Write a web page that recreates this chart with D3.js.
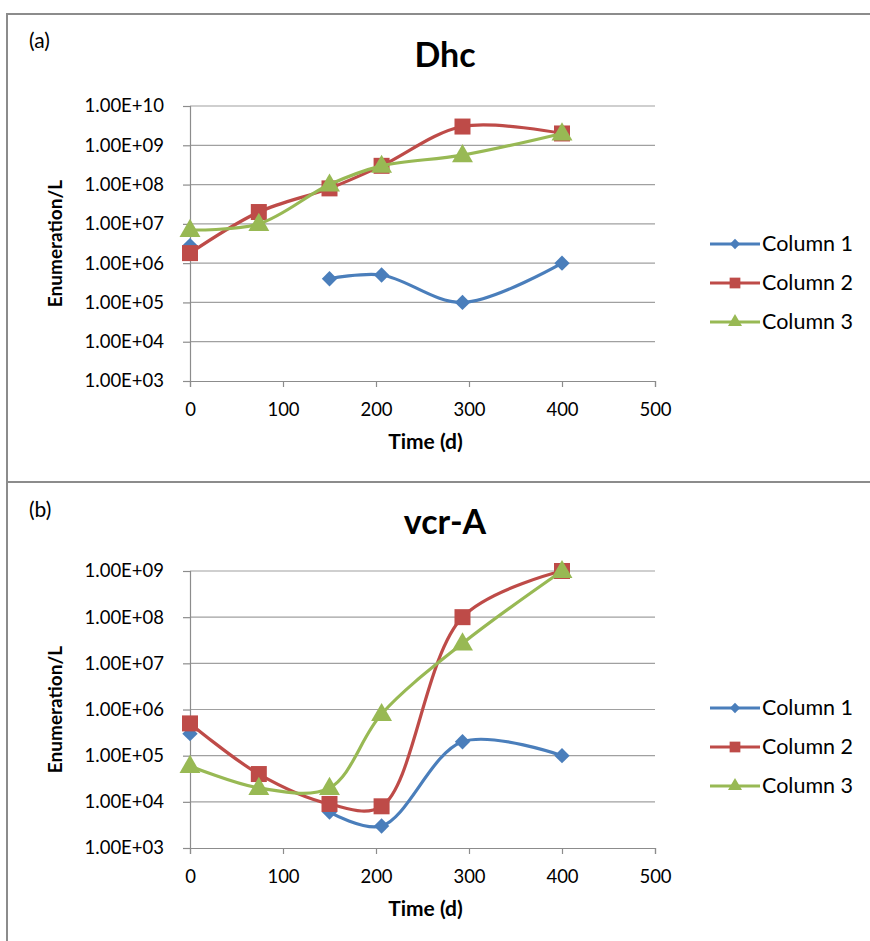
<!DOCTYPE html>
<html>
<head>
<meta charset="utf-8">
<script src="https://cdn.jsdelivr.net/npm/d3@7.9.0/dist/d3.min.js"></script>
<style>
  body { margin: 0; background: #fff; }
  text { font-family: Lato, "Open Sans", sans-serif; fill: #000; }
</style>
</head>
<body>
<svg id="chart" width="870" height="941"></svg>
<script>
// time points (days)
const days = [0, 74, 150, 206, 293, 400];
const seriesNames = ['Column 1', 'Column 2', 'Column 3'];
const colors = ['#4a7ebb', '#be4b48', '#98b954'];

// panel (a) Dhc
const dhcCol1 = [2.8e6, null, 4e5, 5e5, 1e5, 1e6];
const dhcCol2 = [1.8e6, 2e7, 8e7, 3e8, 3e9, 2e9];
const dhcCol3 = [7e6, 1e7, 1e8, 3e8, 5.6e8, 2e9];

// panel (b) vcr-A
const vcrCol1 = [3e5, null, 6e3, 3e3, 2e5, 1e5];
const vcrCol2 = [5e5, 4e4, 9e3, 8e3, 1e8, 1e9];
const vcrCol3 = [6e4, 2e4, 2e4, 8e5, 2.7e7, 1e9];

const xTicks = [0, 100, 200, 300, 400, 500];
const dhcTicks = [1e3, 1e4, 1e5, 1e6, 1e7, 1e8, 1e9, 1e10];
const vcrTicks = [1e3, 1e4, 1e5, 1e6, 1e7, 1e8, 1e9];

const svg = d3.select('#chart');

// outer frame and divider
svg.append('rect').attr('x', 7).attr('y', 14).attr('width', 900).attr('height', 960)
  .attr('fill', 'none').attr('stroke', '#8c8c8c').attr('stroke-width', 2);
svg.append('line').attr('x1', 7).attr('x2', 870).attr('y1', 482).attr('y2', 482)
  .attr('stroke', '#8c8c8c').attr('stroke-width', 2);

function fmt(v) {
  const e = Math.round(Math.log10(v));
  return '1.00E+' + String(e).padStart(2, '0');
}

function drawPanel(cfg) {
  const g = svg.append('g');
  const x = d3.scaleLinear().domain([0, 500]).range([190, 655]);
  const y = d3.scaleLog().domain(cfg.domain).range([cfg.bottom, cfg.top]);

  g.append('text').attr('x', 29).attr('y', cfg.labelY).attr('font-size', 21).text(cfg.label);
  g.append('text').attr('x', 445).attr('y', cfg.titleY).attr('text-anchor', 'middle')
    .attr('font-size', 34).attr('font-weight', 'bold').text(cfg.title);

  // gridlines
  g.selectAll('.grid').data(cfg.ticks.slice(1)).join('line')
    .attr('x1', x(0)).attr('x2', x(500))
    .attr('y1', d => y(d)).attr('y2', d => y(d))
    .attr('stroke', '#a0a0a0').attr('stroke-width', 1.2);

  const yAxis = g.append('g').attr('transform', `translate(${x(0)},0)`)
    .call(d3.axisLeft(y).tickValues(cfg.ticks).tickFormat(fmt).tickSize(7).tickPadding(19));
  const xAxis = g.append('g').attr('transform', `translate(0,${cfg.bottom})`)
    .call(d3.axisBottom(x).tickValues(xTicks).tickFormat(d3.format('d')).tickSize(6).tickPadding(16));
  [yAxis, xAxis].forEach(a => {
    a.attr('font-family', null).attr('font-size', null);
    a.selectAll('text').attr('font-size', 18.5).attr('fill', '#1a1a1a');
    a.select('.domain').attr('stroke', '#8c8c8c').attr('stroke-width', 1.2);
    a.selectAll('.tick line').attr('stroke', '#8c8c8c').attr('stroke-width', 1.2);
  });

  g.append('text').attr('x', x(250) + 3).attr('y', cfg.bottom + 68).attr('text-anchor', 'middle')
    .attr('font-size', 21).attr('font-weight', 'bold').text('Time (d)');
  g.append('text').attr('transform', `translate(62,${(cfg.top + cfg.bottom) / 2}) rotate(-90)`)
    .attr('text-anchor', 'middle').attr('font-size', 19).attr('font-weight', 'bold').text('Enumeration/L');

  const line = d3.line()
    .defined(d => d[1] != null)
    .x(d => x(d[0])).y(d => y(d[1]))
    .curve(d3.curveCatmullRom.alpha(0.5));

  const shapes = [d3.symbolDiamond2, d3.symbolSquare, d3.symbolTriangle];
  const sizes = [150, 256, 190];

  cfg.series.forEach((vals, i) => {
    const pts = days.map((d, j) => [d, vals[j]]);
    g.append('path').attr('d', line(pts)).attr('fill', 'none')
      .attr('stroke', colors[i]).attr('stroke-width', 3.2);
    const sym = d3.symbol().type(shapes[i]).size(sizes[i]);
    g.selectAll('.m' + i).data(pts.filter(p => p[1] != null)).join('path')
      .attr('transform', p => `translate(${x(p[0])},${y(p[1]) + (i === 2 ? 1 : 0)})`)
      .attr('d', sym).attr('fill', colors[i]);
  });

  // legend
  const leg = g.append('g');
  seriesNames.forEach((name, i) => {
    const ly = cfg.legendY + i * 39;
    leg.append('line').attr('x1', 710).attr('x2', 760).attr('y1', ly).attr('y2', ly)
      .attr('stroke', colors[i]).attr('stroke-width', 3.2);
    leg.append('path').attr('transform', `translate(735,${ly})`)
      .attr('d', d3.symbol().type(shapes[i]).size(sizes[i] * 0.45)).attr('fill', colors[i]);
    leg.append('text').attr('x', 762).attr('y', ly + 7).attr('font-size', 21.5).text(name);
  });
}

drawPanel({
  label: '(a)', labelY: 48, title: 'Dhc', titleY: 67,
  top: 106, bottom: 381, domain: [1e3, 1e10], ticks: dhcTicks,
  series: [dhcCol1, dhcCol2, dhcCol3], legendY: 244
});

drawPanel({
  label: '(b)', labelY: 517, title: 'vcr-A', titleY: 534,
  top: 571, bottom: 848, domain: [1e3, 1e9], ticks: vcrTicks,
  series: [vcrCol1, vcrCol2, vcrCol3], legendY: 708
});
</script>
</body>
</html>
